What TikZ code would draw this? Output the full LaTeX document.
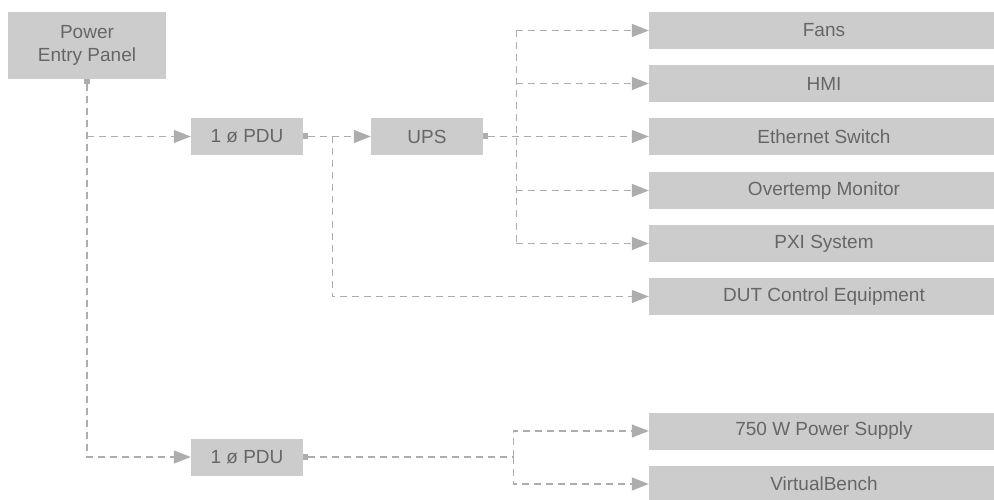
\documentclass[tikz,border=0pt]{standalone}
\usepackage{fontspec}
\setmainfont{Liberation Sans}
\usetikzlibrary{arrows.meta,positioning}
\definecolor{boxGray}{HTML}{CCCCCC}
\definecolor{lineGray}{HTML}{ADADAD}
\definecolor{textGray}{HTML}{666666}
\tikzstyle{recNode} = [rectangle, minimum height=37pt, text centered, align=center, fill=boxGray, text=textGray, font=\fontsize{19}{23}\selectfont]
\tikzstyle{recNodeS} = [recNode, minimum width=112pt]
\tikzstyle{recNodeW} = [recNode, minimum width=350pt]
\tikzstyle{lineG} = [line width=1.3pt, color=lineGray, dash pattern=on 7pt off 5pt]
\tikzstyle{arrowG} = [lineG, -{Triangle[length=17pt,width=13pt]}]
\tikzstyle{plugG} = [lineG, {Square[length=5pt,width=6pt]}-]
\tikzstyle{plugArrowG} = [lineG, {Square[length=5pt,width=6pt]}-{Triangle[length=17pt,width=13pt]}]

\begin{document}
\begin{tikzpicture}[node distance=180pt]
        \useasboundingbox (0,0) rectangle (994pt,-500pt);

        \node (pep) [recNode, minimum width=158pt, minimum height=67pt] at (87pt,-45.5pt) {Power\\Entry Panel};
        \node (pdu1) [recNodeS, right of=pep, xshift=-20pt, yshift=-91pt] {1 ø PDU};
        \node (pdu2) [recNodeS, right of=pep, xshift=-20pt, yshift=-411.5pt] {1 ø PDU};
        \node (ups) [recNodeS, right of=pdu1] {UPS};

        \node (fans) [recNodeW, right of=ups, xshift=217pt, yshift=106pt] {Fans};
        \node (hmi) [recNodeW, right of=ups, xshift=217pt, yshift=53pt] {HMI};
        \node (eth) [recNodeW, right of=ups, xshift=217pt] {Ethernet Switch};
        \node (ovt) [recNodeW, right of=ups, xshift=217pt, yshift=-54pt] {Overtemp Monitor};
        \node (pxi) [recNodeW, right of=ups, xshift=217pt, yshift=-107pt] {PXI System};
        \node (dut) [recNodeW, right of=ups, xshift=217pt, yshift=-160pt] {DUT Control Equipment};

        \node (psu) [recNodeW, right of=pdu2, xshift=397pt, yshift=26pt] {750 W Power Supply};
        \node (vb) [recNodeW, right of=pdu2, xshift=397pt, yshift=-27pt] {VirtualBench};

        % panel feeds
        \draw [plugArrowG] (pep.south) |- (pdu2.west);
        \draw [arrowG] (pep.south |- pdu1) -- (pdu1.west);

        % first PDU
        \coordinate [right=29pt of pdu1.east] (pduSplit);
        \draw [plugArrowG] (pdu1.east) -- (ups.west);
        \draw [arrowG] (pduSplit) |- (dut.west);

        % UPS loads
        \coordinate [right=33pt of ups.east] (upsSplit);
        \draw [plugArrowG] (ups.east) -- (eth.west);
        \draw [lineG] (upsSplit |- fans) -- (upsSplit |- pxi);
        \foreach \n in {fans,hmi,ovt,pxi}
            \draw [arrowG] (upsSplit |- \n) -- (\n.west);

        % second PDU
        \coordinate [right=210pt of pdu2.east] (pdu2Split);
        \draw [plugG] (pdu2.east) -- (pdu2Split);
        \draw [arrowG] (pdu2Split) |- (psu.west);
        \draw [arrowG] (pdu2Split) |- (vb.west);

    \end{tikzpicture}
\end{document}
